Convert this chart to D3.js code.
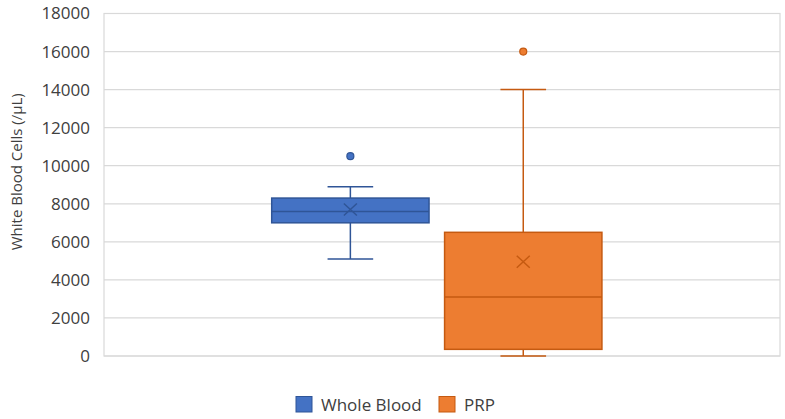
<!DOCTYPE html>
<html>
<head>
<meta charset="utf-8">
<script src="https://cdn.jsdelivr.net/npm/d3@7"></script>
<style>
  body { margin: 0; background: #fff; }
  svg { font-family: "Open Sans", sans-serif; }
</style>
</head>
<body>
<script>
// box statistics, one entry per series
const series = ["Whole Blood", "PRP"];
const whiskerLow = [5100, 0];
const q1 = [7000, 350];
const median = [7600, 3100];
const q3 = [8300, 6500];
const whiskerHigh = [8900, 14000];
const mean = [7700, 4950];
const outliers = [[10500], [16000]];
const yTicks = [0, 2000, 4000, 6000, 8000, 10000, 12000, 14000, 16000, 18000];

const fills = ["#4472C4", "#ED7D31"];
const strokes = ["#2F5597", "#C55A11"];

const width = 785, height = 419;
const margin = {top: 13.5, right: 5, bottom: 63, left: 104};

const svg = d3.select("body").append("svg")
    .attr("width", width)
    .attr("height", height);

const y = d3.scaleLinear()
    .domain([0, 18000])
    .range([height - margin.bottom, margin.top]);

const x = d3.scaleBand()
    .domain(series)
    .range([margin.left, width - margin.right])
    .paddingInner(0.09)
    .paddingOuter(1)
    .align(0.485);

// gridlines
svg.append("g")
  .selectAll("line")
  .data(yTicks)
  .join("line")
    .attr("x1", margin.left)
    .attr("x2", width - margin.right)
    .attr("y1", d => y(d))
    .attr("y2", d => y(d))
    .attr("stroke", "#d9d9d9")
    .attr("stroke-width", 1.2);

// plot border
svg.append("rect")
    .attr("x", margin.left)
    .attr("y", margin.top)
    .attr("width", width - margin.right - margin.left)
    .attr("height", y(0) - margin.top)
    .attr("fill", "none")
    .attr("stroke", "#d9d9d9")
    .attr("stroke-width", 1.2);

// y axis labels
const yAxis = svg.append("g")
    .attr("transform", `translate(${margin.left},0)`)
    .call(d3.axisLeft(y).tickValues(yTicks).tickSize(0).tickPadding(14).tickFormat(d3.format("d")));
yAxis.select(".domain").remove();
yAxis.selectAll("text")
    .attr("fill", "#404040")
    .style("font-family", "'Open Sans', sans-serif")
    .style("font-size", "17px");

svg.append("text")
    .attr("transform", `translate(22,${(margin.top + y(0)) / 2 - 13}) rotate(-90)`)
    .attr("text-anchor", "middle")
    .attr("fill", "#404040")
    .style("font-size", "15px")
    .text("White Blood Cells (/µL)");

// boxes
const boxes = svg.append("g")
  .selectAll("g")
  .data(series)
  .join("g");

const bw = x.bandwidth();
const cap = bw * 0.29;
const cx = d => x(d) + bw / 2;

// whiskers
boxes.append("line")
    .attr("x1", cx).attr("x2", cx)
    .attr("y1", (d, i) => y(whiskerHigh[i]))
    .attr("y2", (d, i) => y(q3[i]))
    .attr("stroke", (d, i) => strokes[i]).attr("stroke-width", 1.5);
boxes.append("line")
    .attr("x1", cx).attr("x2", cx)
    .attr("y1", (d, i) => y(q1[i]))
    .attr("y2", (d, i) => y(whiskerLow[i]))
    .attr("stroke", (d, i) => strokes[i]).attr("stroke-width", 1.5);
boxes.append("line")
    .attr("x1", d => cx(d) - cap / 2).attr("x2", d => cx(d) + cap / 2)
    .attr("y1", (d, i) => y(whiskerHigh[i]))
    .attr("y2", (d, i) => y(whiskerHigh[i]))
    .attr("stroke", (d, i) => strokes[i]).attr("stroke-width", 1.5);
boxes.append("line")
    .attr("x1", d => cx(d) - cap / 2).attr("x2", d => cx(d) + cap / 2)
    .attr("y1", (d, i) => y(whiskerLow[i]))
    .attr("y2", (d, i) => y(whiskerLow[i]))
    .attr("stroke", (d, i) => strokes[i]).attr("stroke-width", 1.5);

// box body
boxes.append("rect")
    .attr("x", d => x(d))
    .attr("y", (d, i) => y(q3[i]))
    .attr("width", bw)
    .attr("height", (d, i) => y(q1[i]) - y(q3[i]))
    .attr("fill", (d, i) => fills[i])
    .attr("stroke", (d, i) => strokes[i])
    .attr("stroke-width", 1.5);

// median
boxes.append("line")
    .attr("x1", d => x(d)).attr("x2", d => x(d) + bw)
    .attr("y1", (d, i) => y(median[i]))
    .attr("y2", (d, i) => y(median[i]))
    .attr("stroke", (d, i) => strokes[i]).attr("stroke-width", 1.5);

// mean marker (x)
boxes.append("path")
    .attr("d", (d, i) => {
      const px = cx(d), py = y(mean[i]), hw = 6.5, hh = 6;
      return `M${px - hw},${py - hh}L${px + hw},${py + hh}M${px - hw},${py + hh}L${px + hw},${py - hh}`;
    })
    .attr("stroke", (d, i) => strokes[i])
    .attr("stroke-width", 1.5)
    .attr("fill", "none");

// outliers
boxes.selectAll("circle")
  .data((d, i) => outliers[i].map(v => ({s: d, v, i})))
  .join("circle")
    .attr("cx", o => cx(o.s))
    .attr("cy", o => y(o.v))
    .attr("r", 3.5)
    .attr("fill", o => fills[o.i])
    .attr("stroke", o => strokes[o.i])
    .attr("stroke-width", 1.2);

// legend
const legend = svg.append("g")
  .selectAll("g")
  .data(series)
  .join("g")
    .attr("transform", (d, i) => `translate(${i === 0 ? 296 : 439},396.5)`);
legend.append("rect")
    .attr("width", 16)
    .attr("height", 15.5)
    .attr("fill", (d, i) => fills[i])
    .attr("stroke", (d, i) => strokes[i])
    .attr("stroke-width", 1);
legend.append("text")
    .attr("x", 25)
    .attr("y", 14)
    .attr("fill", "#404040")
    .style("font-size", "17px")
    .text(d => d);
</script>
</body>
</html>
